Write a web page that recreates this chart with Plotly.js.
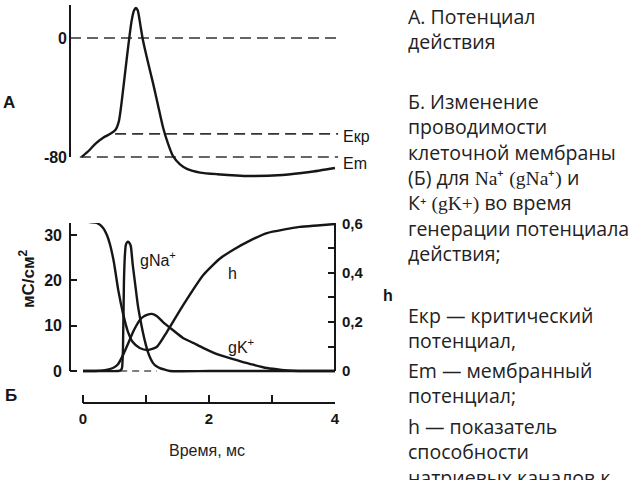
<!DOCTYPE html>
<html>
<head>
<meta charset="utf-8">
<script src="https://cdn.plot.ly/plotly-3.0.1.min.js"></script>
<style>html,body{margin:0;padding:0;background:#fff;}#chart{width:640px;height:480px;}</style>
</head>
<body>
<div id="chart"></div>
<script>
// ---- Panel A: action potential (mV vs ms) ----
var timeA = [-0.02, 0.10, 0.20, 0.32, 0.44, 0.52, 0.57, 0.62, 0.70, 0.77, 0.81, 0.84, 0.87, 0.91, 0.95, 1.03, 1.11, 1.19, 1.27, 1.35, 1.43, 1.54, 1.65, 1.86, 2.13, 2.65, 3.17, 3.60, 4.00];
var potential = [-80, -75.5, -71, -67, -64.3, -61.5, -56, -41, -12, 11, 18.5, 20.2, 18.5, 9, -1, -16, -30, -45, -60, -71, -79.5, -85, -88, -90.5, -91.6, -92.8, -92.1, -90.1, -87.4];
var zeroLevel = 0;
var criticalLevel = -64.5;   // Екр
var restLevel = -80;         // Em
var zeroLineT = [-0.206, 4.05];
var critLineT = [0.51, 4.05];
var restLineT = [-0.05, 4.05];
var ticksA = [-80, 0];
var tickTextA = ['-80', '0'];

// ---- Panel Б: conductances (мС/см²) and h ----
var timeNa = [0, 0.30, 0.56, 0.60, 0.62, 0.635, 0.65, 0.665, 0.68, 0.70, 0.714, 0.74, 0.76, 0.79, 0.83, 0.87, 0.91, 0.95, 0.99, 1.03, 1.07, 1.11, 1.16, 1.22, 1.30, 1.38, 2.0, 3.0, 4.0];
var gNa = [0, 0, 0, 0.2, 0.7, 5.1, 19.6, 25.5, 27.8, 28.4, 28.5, 28.2, 27.5, 23.4, 19, 14.6, 11.4, 8.6, 6.2, 4.2, 2.8, 1.8, 1.1, 0.66, 0.3, 0, 0, 0, 0];
var timeK = [0, 0.20, 0.35, 0.476, 0.556, 0.635, 0.715, 0.794, 0.85, 0.905, 0.96, 1.016, 1.095, 1.175, 1.27, 1.43, 1.587, 1.75, 1.905, 2.15, 2.49, 2.70, 2.92, 3.15, 3.33, 3.6, 4.0];
var gK = [0, 0, 0.2, 0.66, 1.5, 3.5, 6.0, 8.6, 10.1, 11.3, 12.0, 12.4, 12.6, 12.1, 10.8, 9.0, 7.3, 6.2, 5.1, 3.6, 2.2, 1.4, 0.66, 0.25, 0.05, 0, 0];
var timeH = [0, 0.11, 0.22, 0.32, 0.38, 0.43, 0.49, 0.56, 0.64, 0.71, 0.79, 0.90, 1.03, 1.17, 1.33, 1.59, 1.91, 2.18, 2.38, 2.65, 2.92, 3.20, 3.44, 3.72, 4.0];
var hValues = [0.612, 0.608, 0.604, 0.584, 0.555, 0.515, 0.445, 0.33, 0.23, 0.163, 0.118, 0.094, 0.086, 0.098, 0.159, 0.269, 0.392, 0.46, 0.494, 0.532, 0.563, 0.578, 0.588, 0.594, 0.6];
var zeroDashT = [0.59, 1.17];
var ticksG = [0, 10, 20, 30];
var ticksH = [0, 0.2, 0.4, 0.6];
var tickTextH = ['0', '0,2', '0,4', '0,6'];
var minorTicksH = [0.1, 0.3, 0.5];
var ticksT = [0, 2, 4];
var minorTicksT = [1, 3];

// right-hand caption paragraphs
var captionParagraphs = [
  ['А. Потенциал', 'действия'],
  ['Б. Изменение', 'проводимости', 'клеточной мембраны',
   '(Б) для <span style="font-family:\'Liberation Serif\'">Na⁺ (gNa⁺)</span> и',
   'К⁺ <span style="font-family:\'Liberation Serif\'">(gK+)</span> во время',
   'генерации потенциала', 'действия;'],
  ['Екр — критический', 'потенциал,'],
  ['Em — мембранный', 'потенциал;'],
  ['h — показатель', 'способности', 'натриевых каналов к']
];
var captionCenterY = [29, 177.5, 327.5, 382.5, 452];

// ---- helpers ----
function PX(x) { return x / 640; }
function PY(y) { return 1 - y / 480; }
var INK = '#161616';
var LW = 2.4;
var SANS = 'Liberation Sans, Arial, sans-serif';

var traces = [
  {x: zeroLineT, y: [zeroLevel, zeroLevel], xaxis: 'x', yaxis: 'y', mode: 'lines', line: {color: '#333', width: 1.6, dash: '11px,6px'}},
  {x: critLineT, y: [criticalLevel, criticalLevel], xaxis: 'x', yaxis: 'y', mode: 'lines', line: {color: '#333', width: 1.6, dash: '11px,6px'}},
  {x: restLineT, y: [restLevel, restLevel], xaxis: 'x', yaxis: 'y', mode: 'lines', line: {color: '#333', width: 1.6, dash: '11px,6px'}},
  {x: timeA, y: potential, xaxis: 'x', yaxis: 'y', mode: 'lines', line: {color: INK, width: LW, shape: 'spline', smoothing: 0.6}},
  {x: zeroDashT, y: [0, 0], xaxis: 'x2', yaxis: 'y2', mode: 'lines', line: {color: '#555', width: 1.4, dash: '7px,5px'}},
  {x: timeNa, y: gNa, xaxis: 'x2', yaxis: 'y2', mode: 'lines', line: {color: INK, width: LW, shape: 'spline', smoothing: 0.5}},
  {x: timeK, y: gK, xaxis: 'x2', yaxis: 'y2', mode: 'lines', line: {color: INK, width: LW, shape: 'spline', smoothing: 0.6}},
  {x: timeH, y: hValues, xaxis: 'x2', yaxis: 'y3', mode: 'lines', line: {color: INK, width: LW, shape: 'spline', smoothing: 0.6}}
];

var tickFont = {family: SANS, size: 16, color: INK, weight: 'bold'};

var annotations = [];
function ann(text, x, y, opts) {
  var a = {text: text, x: PX(x), y: PY(y), xref: 'paper', yref: 'paper', showarrow: false,
           xanchor: 'center', yanchor: 'middle',
           font: {family: SANS, size: 16, color: INK}};
  for (var k in opts) a[k] = opts[k];
  annotations.push(a);
}
ann('А', 9, 102, {font: {family: SANS, size: 17, color: INK, weight: 'bold'}});
ann('Б', 11, 395, {font: {family: SANS, size: 17, color: INK, weight: 'bold'}});
ann('Екр', 341, 136, {xanchor: 'left'});
ann('Em', 341, 163, {xanchor: 'left'});
ann('gNa<sup>+</sup>', 158, 259, {});
ann('h', 232, 273, {});
ann('gK<sup>+</sup>', 241, 346, {});
ann('мС/см<sup>2</sup>', 27, 279, {textangle: -90, font: {family: SANS, size: 17, color: INK, weight: 'bold'}});
ann('Время, мс', 207, 450, {font: {family: SANS, size: 16, color: '#222'}});
ann('h', 388, 295, {font: {family: SANS, size: 16, color: INK, weight: 'bold'}});
for (var i = 0; i < captionParagraphs.length; i++) {
  ann(captionParagraphs[i].join('<br>'), 406, captionCenterY[i],
      {xanchor: 'left', align: 'left', font: {family: 'Open Sans, sans-serif', size: 19.5, color: '#222'}});
}

var shapes = [
  // axis lines drawn explicitly so that they stop where the original ones do
  {type: 'line', xref: 'paper', yref: 'y', x0: PX(70), x1: PX(70), y0: -80, y1: 22.2, line: {color: INK, width: 2}},
  {type: 'line', xref: 'paper', yref: 'y2', x0: PX(70), x1: PX(70), y0: 0, y1: 32.65, line: {color: INK, width: 2}},
  {type: 'line', xref: 'paper', yref: 'y3', x0: PX(335), x1: PX(335), y0: 0, y1: 0.604, line: {color: INK, width: 2}},
  {type: 'line', xref: 'x2', yref: 'paper', x0: 0, x1: 4, y0: PY(403), y1: PY(403), line: {color: INK, width: 2}}
];

var layout = {
  width: 640, height: 480,
  margin: {l: 0, r: 0, t: 0, b: 0, pad: 0},
  paper_bgcolor: '#fff', plot_bgcolor: 'rgba(0,0,0,0)',
  showlegend: false,
  xaxis: {domain: [PX(70), PX(340)], range: [-0.206, 4.08], anchor: 'y', visible: false},
  yaxis: {domain: [PY(180), PY(5)], range: [-95.5, 22.2], anchor: 'x', showgrid: false, zeroline: false, showline: false,
          tickvals: ticksA, ticktext: tickTextA, ticks: '', tickfont: tickFont, ticklabelstandoff: 2},
  xaxis2: {domain: [PX(70), PX(335)], range: [-0.206, 4.0], anchor: 'free', position: PY(403), showgrid: false, zeroline: false, showline: false,
           tickvals: ticksT, ticks: 'inside', ticklen: 8, tickwidth: 2, tickcolor: INK, ticklabelstandoff: 5,
           minor: {tickvals: minorTicksT, ticks: 'inside', ticklen: 8, tickwidth: 2, tickcolor: INK, showgrid: false},
           tickfont: {family: SANS, size: 15, color: INK, weight: 'bold'}},
  yaxis2: {domain: [PY(376), PY(223)], range: [-1.1, 32.65], anchor: 'x2', showgrid: false, zeroline: false, showline: false,
           tickvals: ticksG, ticks: 'inside', ticklen: 7, tickwidth: 2, tickcolor: INK, tickfont: tickFont, ticklabelstandoff: 7},
  yaxis3: {domain: [PY(376), PY(223)], range: [-0.0204, 0.604], anchor: 'x2', overlaying: 'y2', side: 'right', showgrid: false, zeroline: false, showline: false,
           tickvals: ticksH, ticktext: tickTextH, ticks: 'inside', ticklen: 7, tickwidth: 2, tickcolor: INK,
           minor: {tickvals: minorTicksH, ticks: 'inside', ticklen: 7, tickwidth: 2, tickcolor: INK, showgrid: false},
           tickfont: {family: SANS, size: 15, color: INK, weight: 'bold'}, ticklabelstandoff: 6},
  annotations: annotations,
  shapes: shapes
};

Plotly.newPlot('chart', traces, layout, {staticPlot: true, displayModeBar: false});
</script>
</body>
</html>
